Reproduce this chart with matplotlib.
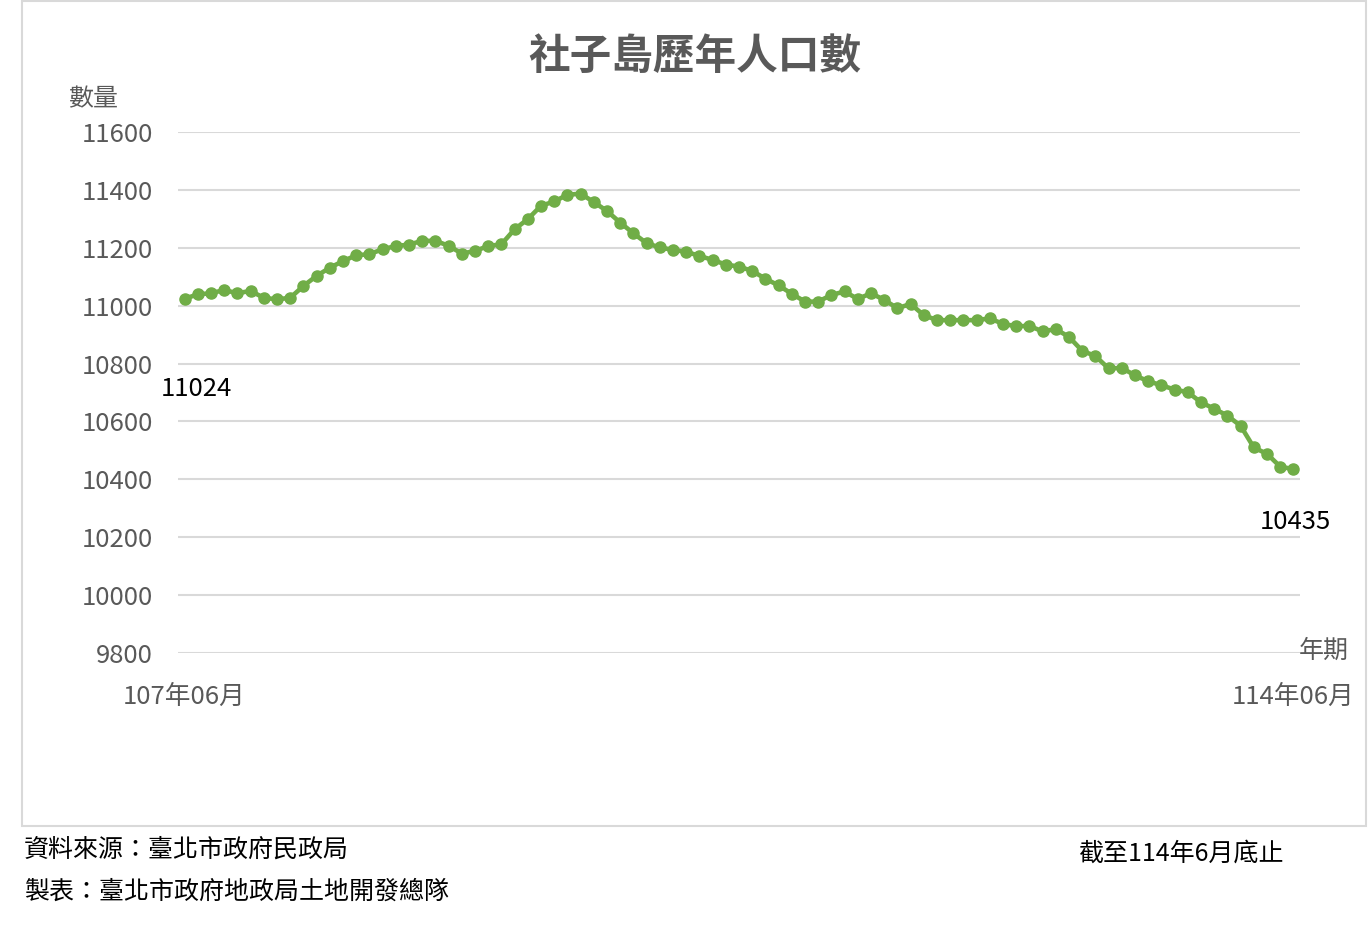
import matplotlib
matplotlib.use("Agg")
import matplotlib.pyplot as plt
from matplotlib.patches import Rectangle

plt.rcParams['font.family'] = ['Noto Sans CJK TC', 'DejaVu Sans']

# 107年06月 ~ 114年06月 每月人口數
population = [
    11024, 11039, 11043, 11054, 11043, 11051, 11027, 11022, 11027, 11068,
    11103, 11131, 11154, 11174, 11178, 11195, 11206, 11211, 11224, 11224,
    11207, 11180, 11189, 11206, 11212, 11264, 11299, 11345, 11360, 11383,
    11387, 11358, 11327, 11287, 11250, 11216, 11201, 11193, 11186, 11172,
    11158, 11142, 11135, 11120, 11093, 11070, 11041, 11014, 11014, 11037,
    11049, 11023, 11043, 11020, 10991, 11006, 10967, 10950, 10950, 10950,
    10950, 10956, 10937, 10929, 10930, 10911, 10919, 10892, 10844, 10826,
    10783, 10785, 10759, 10739, 10725, 10710, 10701, 10666, 10644, 10620,
    10585, 10510, 10488, 10444, 10435,
]
months = list(range(len(population)))
x_labels = ['107年06月', '114年06月']
y_ticks = list(range(9800, 11601, 200))

W, H = 1368, 933
fig = plt.figure(figsize=(W / 100, H / 100), dpi=100)

def fx(px):
    return px / W

def fy(py):
    return 1 - py / H

ax = fig.add_axes([fx(178), fy(653), fx(1300) - fx(178), fy(132) - fy(653)])

ax.plot(months, population, color='#70AD47', lw=3.3, marker='o', ms=8,
        zorder=3)

ax.set_xlim(-0.5, len(population) - 0.5)
ax.set_ylim(9800, 11600)
ax.set_yticks(y_ticks)
ax.set_yticklabels([str(v) for v in y_ticks])
ax.set_xticks([0, len(population) - 1])
ax.set_xticklabels(x_labels)
ax.grid(axis='y', color='#D9D9D9', lw=1.5)
ax.set_axisbelow(True)
for s in ax.spines.values():
    s.set_visible(False)
ax.tick_params(axis='y', length=0, pad=18, labelsize=18.5, labelcolor='#595959')
ax.tick_params(axis='x', length=0, pad=22, labelsize=18.5, labelcolor='#595959')

# 首尾數值標籤
ax.annotate(str(population[0]), (0, population[0]), xytext=(12, -90),
            textcoords='offset pixels', ha='center', va='center',
            fontsize=18.5, color='black')
ax.annotate(str(population[-1]), (len(population) - 1, population[-1]),
            xytext=(2, -53), textcoords='offset pixels', ha='center',
            va='center', fontsize=18.5, color='black')

# 外框
fig.patches.append(Rectangle((fx(22), fy(826)), fx(1366) - fx(22), fy(1) - fy(826),
                             transform=fig.transFigure, fill=False,
                             edgecolor='#D9D9D9', lw=1.5))

fig.text(fx(695), fy(57), '社子島歷年人口數', ha='center', va='center',
         fontsize=30, fontweight='bold', color='#595959')
fig.text(fx(93), fy(99), '數量', ha='center', va='center', fontsize=18,
         color='#595959')
fig.text(fx(1324), fy(651), '年期', ha='center', va='center', fontsize=18,
         color='#595959')

fig.text(fx(24), fy(850), '資料來源：臺北市政府民政局', ha='left', va='center',
         fontsize=18, color='black')
fig.text(fx(24), fy(892), '製表：臺北市政府地政局土地開發總隊', ha='left',
         va='center', fontsize=18, color='black')
fig.text(fx(1078), fy(854), '截至114年6月底止', ha='left', va='center',
         fontsize=18, color='black')

fig.savefig('out.png', dpi=100, facecolor='white')
